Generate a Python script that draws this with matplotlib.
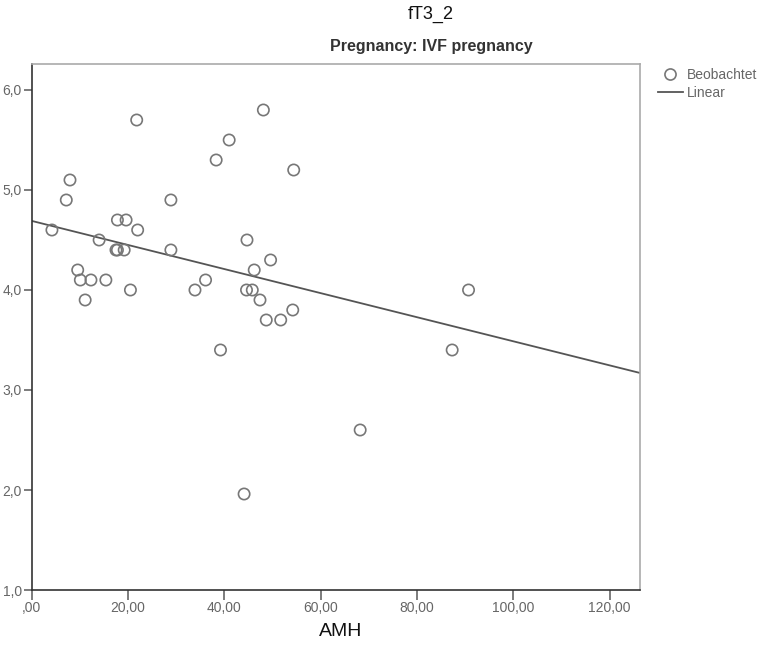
import numpy as np
import matplotlib
matplotlib.use("Agg")
import matplotlib.pyplot as plt
from matplotlib.lines import Line2D
from matplotlib.ticker import FuncFormatter

plt.rcParams['font.family'] = ['Liberation Sans Narrow', 'Liberation Sans', 'DejaVu Sans']

# AMH vs fT3_2 (IVF pregnancy)
amh = [48.1, 41.0, 38.3, 54.4, 28.9, 44.7, 28.9, 49.6, 46.2, 36.1,
       33.9, 44.6, 45.8, 47.4, 54.2, 48.7, 51.7, 39.2, 21.8, 7.95,
       7.18, 17.8, 19.6, 4.2, 22.0, 14.0, 17.5, 17.8, 19.2, 9.55,
       10.1, 12.3, 15.4, 20.5, 11.1, 90.7, 87.3, 68.2, 44.1]
ft3 = [5.8, 5.5, 5.3, 5.2, 4.9, 4.5, 4.4, 4.3, 4.2, 4.1,
       4.0, 4.0, 4.0, 3.9, 3.8, 3.7, 3.7, 3.4, 5.7, 5.1,
       4.9, 4.7, 4.7, 4.6, 4.6, 4.5, 4.4, 4.4, 4.4, 4.2,
       4.1, 4.1, 4.1, 4.0, 3.9, 4.0, 3.4, 2.6, 1.96]

X_TICKS = [0, 20, 40, 60, 80, 100, 120]
Y_TICKS = [1, 2, 3, 4, 5, 6]

W, H = 765, 649
fig = plt.figure(figsize=(W / 100, H / 100), dpi=100)
ax = fig.add_axes([31.7 / W, (H - 590) / H, (640 - 31.7) / W, (590 - 64) / H])

ax.scatter(amh, ft3, s=66, facecolors='none', edgecolors='#777777', linewidths=1.2, zorder=3)

# linear fit line over full x range
b, a = np.polyfit(amh, ft3, 1)
xs = np.array([0, 126.3])
ax.plot(xs, a + b * xs, color='#555555', lw=1.3, zorder=2)

ax.set_xlim(0, 126.3)
ax.set_ylim(1.0, 6.26)
ax.set_xticks(X_TICKS)
ax.set_yticks(Y_TICKS)


def fmt_x(v, pos):
    s = f"{v:.2f}".replace('.', ',')
    return s[1:] if s.startswith('0,') else s


ax.xaxis.set_major_formatter(FuncFormatter(fmt_x))
ax.yaxis.set_major_formatter(FuncFormatter(lambda v, p: f"{v:.1f}".replace('.', ',')))
ax.tick_params(axis='both', direction='out', colors='#666666', labelsize=10, width=1.2)
ax.tick_params(axis='x', length=7, pad=1)
ax.tick_params(axis='y', length=6, pad=1)

for s in ['left', 'bottom']:
    ax.spines[s].set_color('#333333')
    ax.spines[s].set_linewidth(1.2)
for s in ['top', 'right']:
    ax.spines[s].set_color('#aaaaaa')
    ax.spines[s].set_linewidth(1.2)

fig.text(431 / W, 1 - 14 / H, 'fT3_2', ha='center', va='center', fontsize=13, color='#111111')
fig.text(431 / W, 1 - 47 / H, 'Pregnancy: IVF pregnancy', ha='center', va='center',
         fontsize=11.5, color='#333333', fontweight='bold')
fig.text(341 / W, 1 - 632 / H, 'AMH', ha='center', va='center', fontsize=14, color='#111111')

handles = [Line2D([], [], marker='o', ls='none', mfc='none', mec='#777777', ms=8, mew=1.2),
           Line2D([], [], color='#555555', lw=1.3)]
leg = fig.legend(handles, ['Beobachtet', 'Linear'], loc='upper left',
                 bbox_to_anchor=(652 / W, 1 - 62 / H), frameon=False, fontsize=10,
                 handlelength=1.8, handletextpad=0.3, labelspacing=0.3, borderaxespad=0)
for t in leg.get_texts():
    t.set_color('#666666')

fig.savefig('out.png', dpi=100)
